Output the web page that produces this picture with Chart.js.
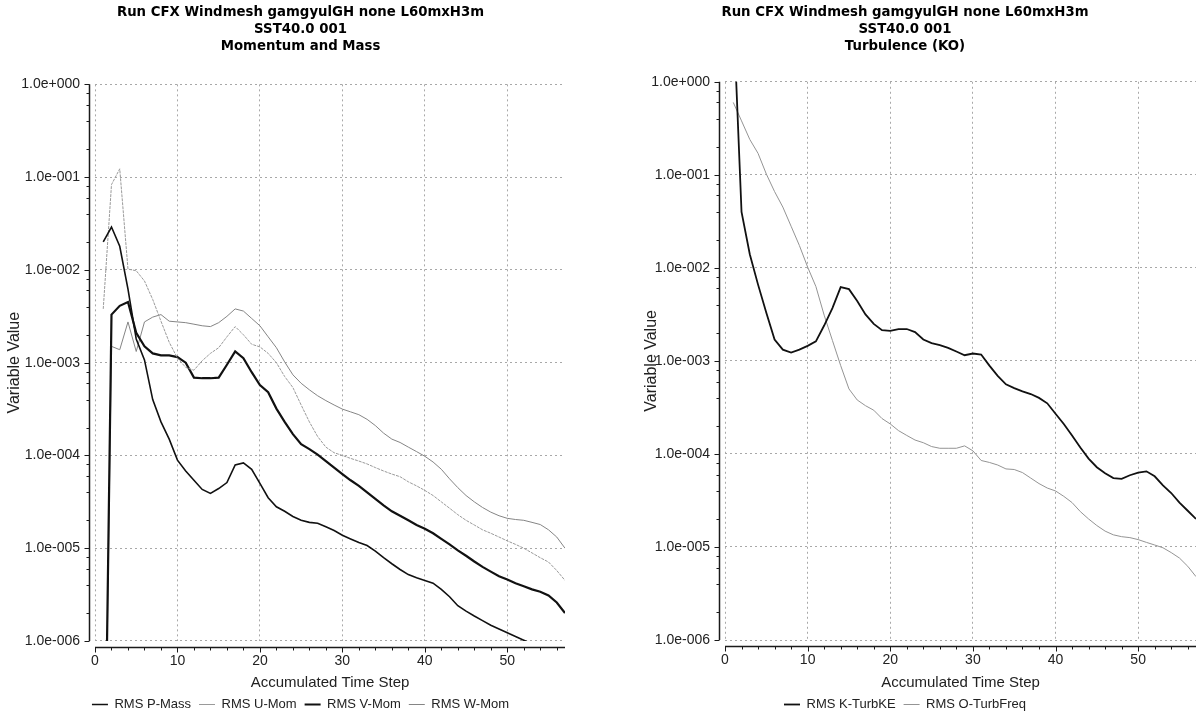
<!DOCTYPE html>
<html>
<head>
<meta charset="utf-8">
<script src="https://cdn.jsdelivr.net/npm/chart.js@4.4.1/dist/chart.umd.min.js"></script>
<style>
  html, body { margin: 0; padding: 0; background: #fff; overflow: hidden; }
  #wrap { position: relative; width: 1201px; height: 717px; }
  canvas { position: absolute; top: 0; }
  #momentumChart { left: 0; }
  #turbChart { left: 600px; }
</style>
</head>
<body>
<div id="wrap">
  <canvas id="momentumChart" width="600" height="717"></canvas>
  <canvas id="turbChart" width="601" height="717"></canvas>
</div>
<script>
// accumulated time steps (x)
const steps = [
  1, 2, 3, 4, 5, 6, 7, 8, 9, 10,
  11, 12, 13, 14, 15, 16, 17, 18, 19, 20,
  21, 22, 23, 24, 25, 26, 27, 28, 29, 30,
  31, 32, 33, 34, 35, 36, 37, 38, 39, 40,
  41, 42, 43, 44, 45, 46, 47, 48, 49, 50,
  51, 52, 53, 54, 55, 56, 57
];

const xTickSteps = [0, 10, 20, 30, 40, 50];
const decadeTicks = [1, 1e-1, 1e-2, 1e-3, 1e-4, 1e-5, 1e-6];

// Momentum and Mass residuals
const rmsPMass = [
  2.0e-2, 2.9e-2, 1.8e-2, 6.2e-3, 1.8e-3, 1.07e-3, 4.0e-4, 2.3e-4, 1.5e-4, 8.9e-5,
  6.8e-5, 5.4e-5, 4.3e-5, 3.9e-5, 4.4e-5, 5.1e-5, 7.9e-5, 8.3e-5, 7.1e-5, 5.0e-5,
  3.5e-5, 2.8e-5, 2.5e-5, 2.2e-5, 2.0e-5, 1.9e-5, 1.86e-5, 1.7e-5, 1.55e-5, 1.38e-5,
  1.26e-5, 1.15e-5, 1.07e-5, 9.3e-6, 7.9e-6, 6.8e-6, 5.9e-6, 5.2e-6, 4.8e-6, 4.5e-6,
  4.2e-6, 3.6e-6, 3.0e-6, 2.4e-6, 2.1e-6, 1.86e-6, 1.66e-6, 1.48e-6, 1.35e-6, 1.23e-6,
  1.12e-6, 1.02e-6, 9.3e-7, 8.5e-7, 7.8e-7, 7.1e-7, 6.5e-7
];
const rmsUMom = [
  3.8e-3, 8.3e-2, 1.23e-1, 1.02e-2, 9.8e-3, 7.6e-3, 4.8e-3, 2.8e-3, 1.66e-3, 1.12e-3,
  8.9e-4, 8.3e-4, 1.05e-3, 1.26e-3, 1.45e-3, 1.9e-3, 2.45e-3, 2.0e-3, 1.58e-3, 1.48e-3,
  1.26e-3, 1.0e-3, 7.1e-4, 5.4e-4, 3.5e-4, 2.3e-4, 1.6e-4, 1.23e-4, 1.07e-4, 1.0e-4,
  9.3e-5, 8.7e-5, 8.1e-5, 7.4e-5, 6.8e-5, 6.3e-5, 5.9e-5, 5.2e-5, 4.7e-5, 4.2e-5,
  3.7e-5, 3.16e-5, 2.7e-5, 2.3e-5, 2.0e-5, 1.78e-5, 1.58e-5, 1.45e-5, 1.32e-5, 1.2e-5,
  1.1e-5, 1.0e-5, 8.9e-6, 7.9e-6, 7.1e-6, 5.75e-6, 4.5e-6
];
const rmsVMom = [
  1e-9, 3.3e-3, 4.1e-3, 4.5e-3, 2.1e-3, 1.5e-3, 1.26e-3, 1.2e-3, 1.2e-3, 1.15e-3,
  1.0e-3, 6.9e-4, 6.8e-4, 6.8e-4, 6.9e-4, 9.5e-4, 1.32e-3, 1.12e-3, 7.9e-4, 5.75e-4,
  4.8e-4, 3.2e-4, 2.3e-4, 1.7e-4, 1.32e-4, 1.17e-4, 1.02e-4, 8.7e-5, 7.4e-5, 6.3e-5,
  5.4e-5, 4.7e-5, 4.0e-5, 3.4e-5, 2.9e-5, 2.5e-5, 2.24e-5, 2.0e-5, 1.78e-5, 1.62e-5,
  1.45e-5, 1.26e-5, 1.1e-5, 9.5e-6, 8.3e-6, 7.2e-6, 6.3e-6, 5.6e-6, 5.0e-6, 4.6e-6,
  4.2e-6, 3.9e-6, 3.6e-6, 3.4e-6, 3.1e-6, 2.6e-6, 2.0e-6
];
const rmsWMom = [
  1e-9, 1.5e-3, 1.38e-3, 2.75e-3, 1.32e-3, 2.75e-3, 3.1e-3, 3.3e-3, 2.8e-3, 2.75e-3,
  2.7e-3, 2.6e-3, 2.5e-3, 2.45e-3, 2.7e-3, 3.16e-3, 3.8e-3, 3.6e-3, 3.0e-3, 2.5e-3,
  1.9e-3, 1.45e-3, 1.02e-3, 7.4e-4, 6.0e-4, 5.1e-4, 4.4e-4, 3.9e-4, 3.5e-4, 3.16e-4,
  2.95e-4, 2.75e-4, 2.45e-4, 2.1e-4, 1.74e-4, 1.5e-4, 1.38e-4, 1.23e-4, 1.1e-4, 9.8e-5,
  8.5e-5, 7.1e-5, 5.6e-5, 4.5e-5, 3.7e-5, 3.16e-5, 2.75e-5, 2.45e-5, 2.24e-5, 2.1e-5,
  2.04e-5, 2.0e-5, 1.9e-5, 1.8e-5, 1.58e-5, 1.32e-5, 1.0e-5
];

// Turbulence (KO) residuals
const rmsKTurbKE = [
  6.0, 4.0e-2, 1.4e-2, 6.6e-3, 3.3e-3, 1.7e-3, 1.32e-3, 1.23e-3, 1.32e-3, 1.45e-3,
  1.62e-3, 2.4e-3, 3.7e-3, 6.2e-3, 5.9e-3, 4.4e-3, 3.16e-3, 2.5e-3, 2.14e-3, 2.1e-3,
  2.2e-3, 2.2e-3, 2.04e-3, 1.7e-3, 1.55e-3, 1.48e-3, 1.38e-3, 1.26e-3, 1.15e-3, 1.2e-3,
  1.17e-3, 8.9e-4, 6.9e-4, 5.6e-4, 5.1e-4, 4.7e-4, 4.4e-4, 4.0e-4, 3.5e-4, 2.7e-4,
  2.1e-4, 1.58e-4, 1.17e-4, 8.9e-5, 7.2e-5, 6.2e-5, 5.5e-5, 5.4e-5, 5.9e-5, 6.3e-5,
  6.5e-5, 5.75e-5, 4.6e-5, 3.8e-5, 3.0e-5, 2.45e-5, 2.0e-5
];
const rmsOTurbFreq = [
  6.0e-1, 3.8e-1, 2.4e-1, 1.7e-1, 1.02e-1, 6.6e-2, 4.5e-2, 2.8e-2, 1.74e-2, 1.02e-2,
  6.3e-3, 3.1e-3, 1.66e-3, 8.9e-4, 5.0e-4, 3.8e-4, 3.3e-4, 2.95e-4, 2.4e-4, 2.1e-4,
  1.78e-4, 1.58e-4, 1.41e-4, 1.32e-4, 1.2e-4, 1.15e-4, 1.15e-4, 1.15e-4, 1.22e-4, 1.08e-4,
  8.5e-5, 8.1e-5, 7.6e-5, 6.9e-5, 6.8e-5, 6.3e-5, 5.5e-5, 4.8e-5, 4.3e-5, 4.0e-5,
  3.5e-5, 3.0e-5, 2.4e-5, 2.0e-5, 1.7e-5, 1.48e-5, 1.35e-5, 1.29e-5, 1.26e-5, 1.2e-5,
  1.12e-5, 1.05e-5, 9.8e-6, 8.7e-6, 7.6e-6, 6.2e-6, 4.8e-6
];

Chart.defaults.font.family = "'Liberation Sans', Arial, sans-serif";
Chart.defaults.color = '#222';

function toPoints(values) {
  return values.map((v, i) => ({ x: steps[i], y: v }));
}

function expLabel(v) {
  const e = Math.round(Math.log10(v));
  return '1.0e' + (e < 0 ? '-' : '+') + String(Math.abs(e)).padStart(3, '0');
}

// axis lines sit a few pixels away from the plot area, like the CFX plots
const axisLines = {
  id: 'axisLines',
  afterDraw(chart) {
    const { ctx, chartArea: area, scales: { x, y } } = chart;
    const gap = 6;
    const ax = Math.round(area.left - gap) + 0.5;
    const ay = Math.round(area.bottom + gap) + 0.5;
    ctx.save();
    ctx.strokeStyle = '#1a1a1a';
    ctx.lineWidth = 1.5;
    ctx.beginPath();
    ctx.moveTo(ax, area.top);
    ctx.lineTo(ax, area.bottom);
    ctx.moveTo(area.left, ay);
    ctx.lineTo(area.right, ay);
    ctx.stroke();

    ctx.lineWidth = 1;
    ctx.beginPath();
    decadeTicks.forEach(function (v) {
      const py = Math.round(y.getPixelForValue(v)) + 0.5;
      ctx.moveTo(ax - 5, py);
      ctx.lineTo(ax, py);
      if (v < 1) {
        [2, 4, 6, 8].forEach(function (m) {
          const pm = Math.round(y.getPixelForValue(v * m)) + 0.5;
          ctx.moveTo(ax - 3, pm);
          ctx.lineTo(ax, pm);
        });
      }
    });
    for (let s = 0; s <= 56; s += 2) {
      const px = Math.round(x.getPixelForValue(s)) + 0.5;
      ctx.moveTo(px, ay);
      ctx.lineTo(px, ay + (s % 10 === 0 ? 5 : 3));
    }
    ctx.stroke();
    ctx.restore();
  }
};

// title and legend are centred on the whole panel, not on the plot area
const centreBlocks = {
  id: 'centreBlocks',
  afterLayout(chart, args, opts) {
    [chart.titleBlock, chart.legend].forEach(function (b) {
      if (!b) return;
      b.left = opts.centre - 300;
      b.right = opts.centre + 300;
    });
  }
};

function makeChart(canvasId, datasets, title, box) {
  const ctx = document.getElementById(canvasId).getContext('2d');
  return new Chart(ctx, {
    type: 'line',
    data: { datasets: datasets },
    plugins: [axisLines, centreBlocks],
    options: {
      responsive: false,
      animation: false,
      layout: { padding: box.padding },
      elements: { point: { radius: 0 }, line: { tension: 0 } },
      plugins: {
        centreBlocks: { centre: box.centre },
        title: {
          display: true,
          text: title,
          color: '#000',
          font: { family: "'DejaVu Sans', Verdana, sans-serif", size: 13.3, weight: 'bold', lineHeight: 1.28 },
          padding: { top: 4, bottom: box.titleGap }
        },
        legend: {
          position: 'bottom',
          labels: {
            usePointStyle: true,
            pointStyle: 'line',
            pointStyleWidth: 16,
            padding: 8,
            color: '#222',
            font: { size: 13 }
          }
        },
        tooltip: { enabled: false }
      },
      scales: {
        x: {
          type: 'linear',
          min: 0,
          max: 57,
          afterBuildTicks: function (scale) {
            scale.ticks = xTickSteps.map(v => ({ value: v }));
          },
          afterFit: function (scale) { scale.height = box.xHeight; },
          ticks: { padding: 12, autoSkip: false, maxRotation: 0, font: { size: 14 }, color: '#222' },
          grid: { color: '#a8a8a8', lineWidth: 1, drawTicks: false },
          border: { display: false, dash: [2, 3] },
          title: {
            display: true,
            text: 'Accumulated Time Step',
            color: '#222',
            font: { size: 15, lineHeight: 1 },
            padding: { top: 0, bottom: 0 }
          }
        },
        y: {
          type: 'logarithmic',
          min: 1e-6,
          max: 1,
          afterBuildTicks: function (scale) {
            scale.ticks = decadeTicks.map(v => ({ value: v }));
          },
          afterFit: function (scale) { scale.width = box.yWidth; },
          ticks: {
            padding: 15,
            autoSkip: false,
            font: { size: 14 },
            color: '#222',
            callback: function (value) { return expLabel(value); }
          },
          grid: { color: '#a8a8a8', lineWidth: 1, drawTicks: false },
          border: { display: false, dash: [2, 3] },
          title: {
            display: true,
            text: 'Variable Value',
            color: '#222',
            font: { size: 16, lineHeight: 1 },
            padding: { top: box.yTitlePad, bottom: 0 }
          }
        }
      }
    }
  });
}

makeChart('momentumChart', [
  { label: 'RMS P-Mass', data: toPoints(rmsPMass), borderColor: '#111', backgroundColor: '#111', borderWidth: 1.6 },
  { label: 'RMS U-Mom', data: toPoints(rmsUMom), borderColor: '#9a9a9a', backgroundColor: '#9a9a9a', borderWidth: 1, borderDash: [3, 1] },
  { label: 'RMS V-Mom', data: toPoints(rmsVMom), borderColor: '#111', backgroundColor: '#111', borderWidth: 2.2 },
  { label: 'RMS W-Mom', data: toPoints(rmsWMom), borderColor: '#858585', backgroundColor: '#858585', borderWidth: 1 }
], ['Run CFX Windmesh gamgyulGH none L60mxH3m', 'SST40.0 001', 'Momentum and Mass'], {
  padding: { left: 0, right: 35, top: 0, bottom: -4 },
  centre: 300.5,
  titleGap: 29.3,
  xHeight: 49,
  yWidth: 95,
  yTitlePad: 7
});

makeChart('turbChart', [
  { label: 'RMS K-TurbKE', data: toPoints(rmsKTurbKE), borderColor: '#111', backgroundColor: '#111', borderWidth: 1.8 },
  { label: 'RMS O-TurbFreq', data: toPoints(rmsOTurbFreq), borderColor: '#949494', backgroundColor: '#949494', borderWidth: 1 }
], ['Run CFX Windmesh gamgyulGH none L60mxH3m', 'SST40.0 001', 'Turbulence (KO)'], {
  padding: { left: 0, right: 5, top: 0, bottom: -4 },
  centre: 305,
  titleGap: 26.7,
  xHeight: 50,
  yWidth: 125,
  yTitlePad: 44
});
</script>
</body>
</html>
